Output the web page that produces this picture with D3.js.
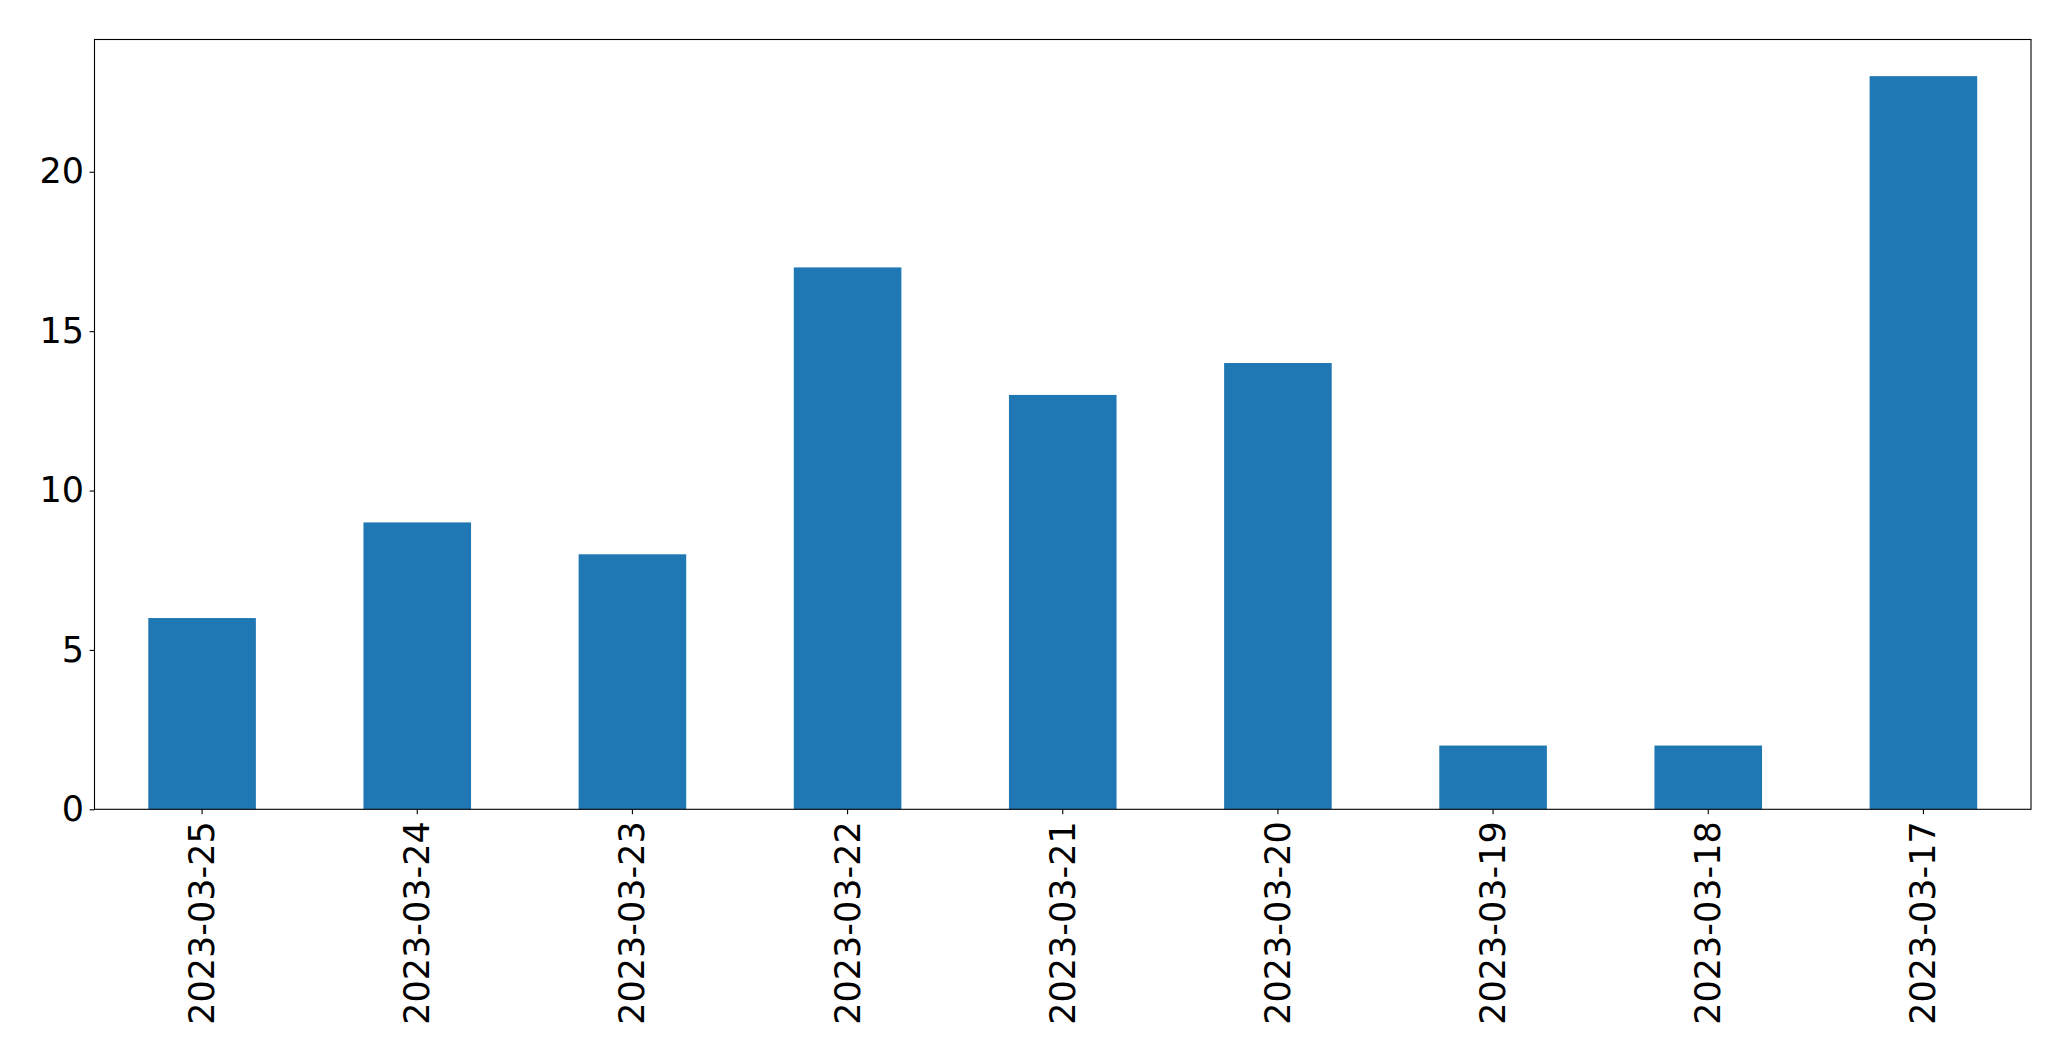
<!DOCTYPE html>
<html>
<head>
<meta charset="utf-8">
<script src="https://cdn.jsdelivr.net/npm/d3@7"></script>
<style>
  html, body { margin: 0; padding: 0; background: #fff; }
  svg { display: block; }
</style>
</head>
<body>
<svg id="chart" width="2071" height="1061"></svg>
<script>
const categories = ["2023-03-25","2023-03-24","2023-03-23","2023-03-22","2023-03-21","2023-03-20","2023-03-19","2023-03-18","2023-03-17"];
const values = [6, 9, 8, 17, 13, 14, 2, 2, 23];
const yTicks = [0, 5, 10, 15, 20];

const svg = d3.select("#chart");
const mLeft = 94.5, mRight = 2031, mTop = 39.5, mBottom = 809.3;
const font = "DejaVu Sans, sans-serif";
const fs = 35;

const x = d3.scaleBand().domain(categories).range([mLeft, mRight]).paddingInner(0.5).paddingOuter(0.25);
const y = d3.scaleLinear().domain([0, d3.max(values) * 1.05]).range([mBottom, mTop]);

svg.append("g").selectAll("rect").data(values).join("rect")
  .attr("x", (d, i) => x(categories[i]))
  .attr("y", d => y(d))
  .attr("width", x.bandwidth())
  .attr("height", d => y(0) - y(d))
  .attr("fill", "#1f77b4");

// y axis
const yAxis = d3.axisLeft(y).tickValues(yTicks).tickSize(4.9).tickPadding(5.5).tickFormat(d3.format("d"));
const gy = svg.append("g").attr("transform", `translate(${mLeft},0)`).call(yAxis);
gy.select(".domain").remove();
gy.selectAll("line").attr("stroke", "#000").attr("stroke-width", 1.1);
gy.selectAll("text").attr("font-family", font).attr("font-size", fs).attr("fill", "#000");

// x axis
const xAxis = d3.axisBottom(x).tickSize(4.9).tickPadding(4.9);
const gx = svg.append("g").attr("transform", `translate(0,${mBottom})`).call(xAxis);
gx.select(".domain").remove();
gx.selectAll("line").attr("stroke", "#000").attr("stroke-width", 1.1);
gx.selectAll("text")
  .attr("font-family", font).attr("font-size", fs).attr("fill", "#000")
  .attr("y", null).attr("dy", null)
  .attr("text-anchor", "end")
  .attr("dominant-baseline", "central")
  .attr("transform", "translate(0,12) rotate(-90)");

// frame
svg.append("rect")
  .attr("x", mLeft).attr("y", mTop)
  .attr("width", mRight - mLeft).attr("height", mBottom - mTop)
  .attr("fill", "none").attr("stroke", "#000").attr("stroke-width", 1.1);
</script>
</body>
</html>
